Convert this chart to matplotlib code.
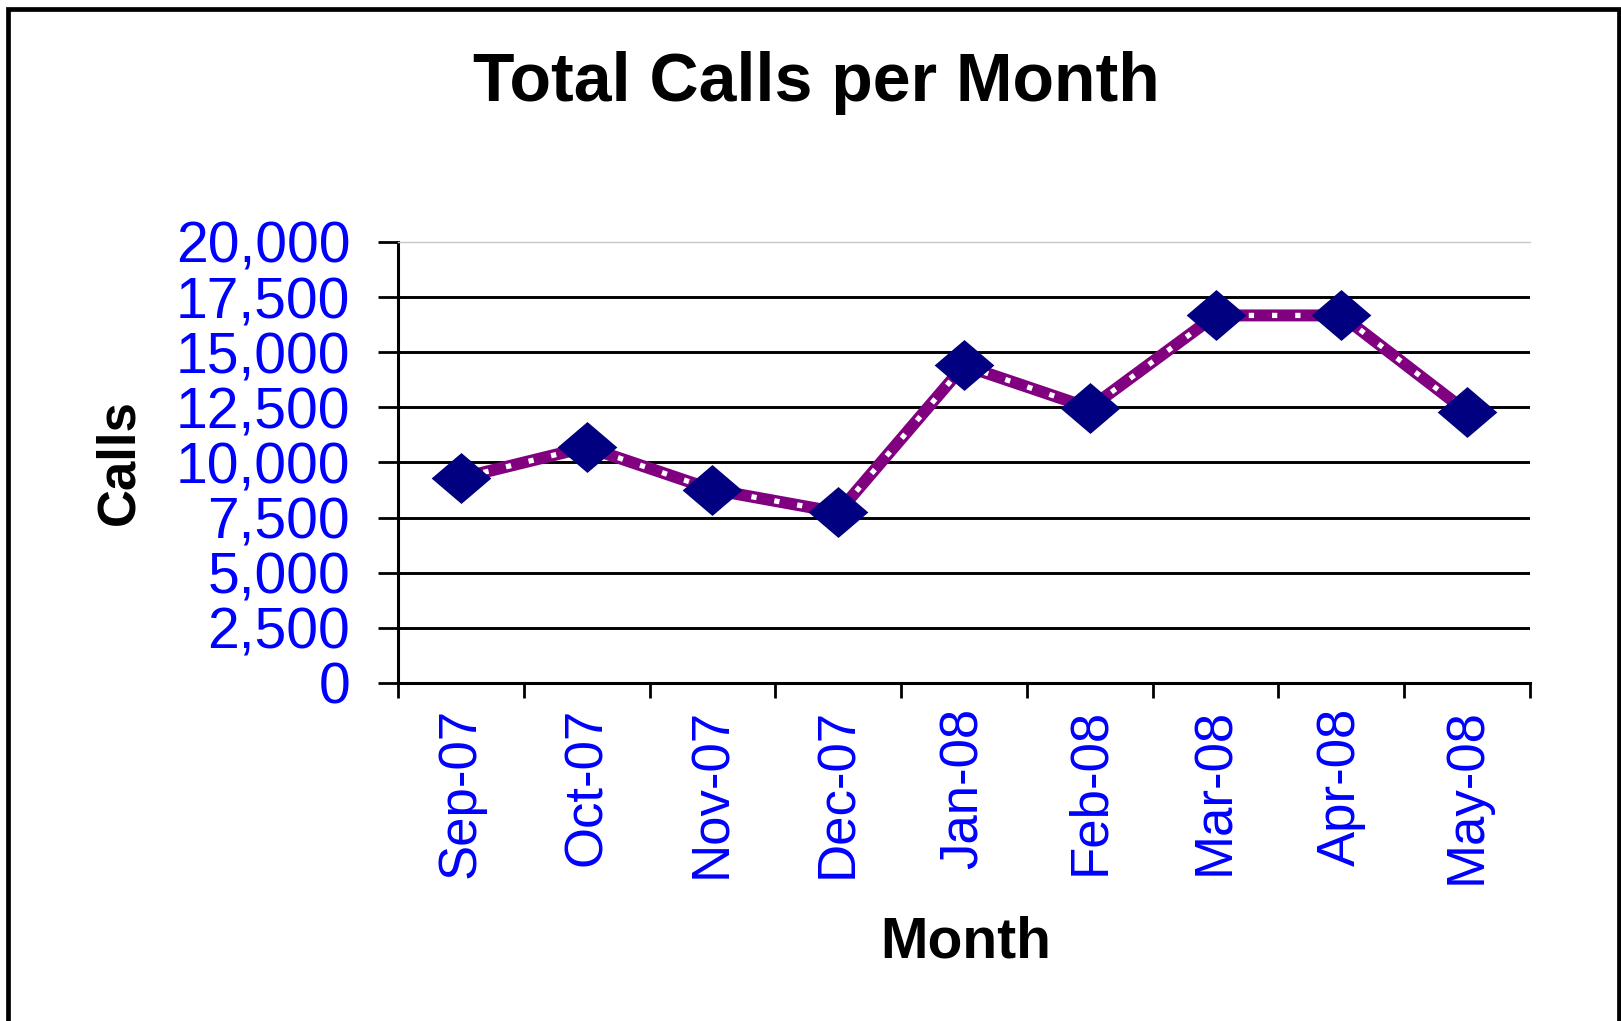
import numpy as np
import matplotlib
matplotlib.use('Agg')
import matplotlib.pyplot as plt
from matplotlib.patches import Rectangle
from matplotlib.ticker import FuncFormatter

plt.rcParams['font.family'] = ['Liberation Sans', 'DejaVu Sans']

# data
months = ['Sep-07', 'Oct-07', 'Nov-07', 'Dec-07', 'Jan-08', 'Feb-08', 'Mar-08', 'Apr-08', 'May-08']
calls = [9300, 10700, 8770, 7740, 14400, 12470, 16670, 16670, 12290]
y_ticks = [0, 2500, 5000, 7500, 10000, 12500, 15000, 17500, 20000]

W, H = 1621, 1021
fig = plt.figure(figsize=(W / 100, H / 100), dpi=100)
fig.patch.set_facecolor('white')

# plot area in pixels: left 398, right 1530, top 242, bottom 683
ax = fig.add_axes([398 / W, 1 - 683 / H, (1530 - 398) / W, (683 - 242) / H])

x = np.arange(len(months))
ax.set_xlim(-0.5, len(months) - 0.5)
ax.set_ylim(y_ticks[0], y_ticks[-1])

# gridlines (black), top one is light grey
ax.hlines(y_ticks[1:-1], -0.5, len(months) - 0.5, colors='black', linewidth=2.1, zorder=1)

# purple line with white square dots + navy diamonds
ax.plot(x, calls, color='#800080', linewidth=8.6, solid_joinstyle='round', zorder=3)
ax.plot(x, calls, color='white', linewidth=3.8, linestyle=(0, (1.0, 3.4)), zorder=4)
diamond = [(-1, 0), (0, 0.853), (1, 0), (0, -0.853)]
ax.plot(x, calls, linestyle='none', marker=diamond, markersize=43,
        color='#000080', markeredgewidth=0, zorder=5)

# y axis
ax.set_yticks(y_ticks)
ax.yaxis.set_major_formatter(FuncFormatter(lambda v, p: f'{int(v):,}'))
ax.tick_params(axis='y', direction='out', length=14.4, width=2.0, pad=20,
               labelsize=41, labelcolor='blue', color='black')

# x axis: ticks on category boundaries, labels at centres
ax.set_xticks(np.arange(-0.5, len(months)))
ax.set_xticklabels([])
ax.set_xticks(x, minor=True)
ax.set_xticklabels(months, minor=True, rotation=90)
ax.tick_params(axis='x', which='major', direction='out', length=11, width=2.0, color='black')
ax.tick_params(axis='x', which='minor', length=0, pad=18, labelsize=38, labelcolor='blue')

for side in ['left', 'bottom']:
    ax.spines[side].set_color('black')
    ax.spines[side].set_linewidth(2.2)
ax.spines['right'].set_visible(False)
ax.spines['top'].set_color('#c8c8c8')
ax.spines['top'].set_linewidth(1.0)

# titles
fig.text(816 / W, 1 - 101 / H, 'Total Calls per Month', ha='center', va='baseline',
         fontsize=49, fontweight='bold', color='black')
fig.text(133 / W, 1 - 462 / H, 'Calls', rotation=90, rotation_mode='anchor',
         ha='center', va='baseline', fontsize=38, fontweight='bold', color='black')
fig.text(966 / W, 1 - 957 / H, 'Month', ha='center', va='baseline',
         fontsize=41, fontweight='bold', color='black')

# outer chart border (bottom edge runs off the picture)
fig.add_artist(Rectangle((7.5 / W, -0.05), (1618.5 - 7.5) / W, 1 - 9 / H + 0.05,
                         transform=fig.transFigure, fill=False, edgecolor='black',
                         linewidth=3.4, clip_on=False))

fig.savefig('out.png', dpi=100)
plt.close()
